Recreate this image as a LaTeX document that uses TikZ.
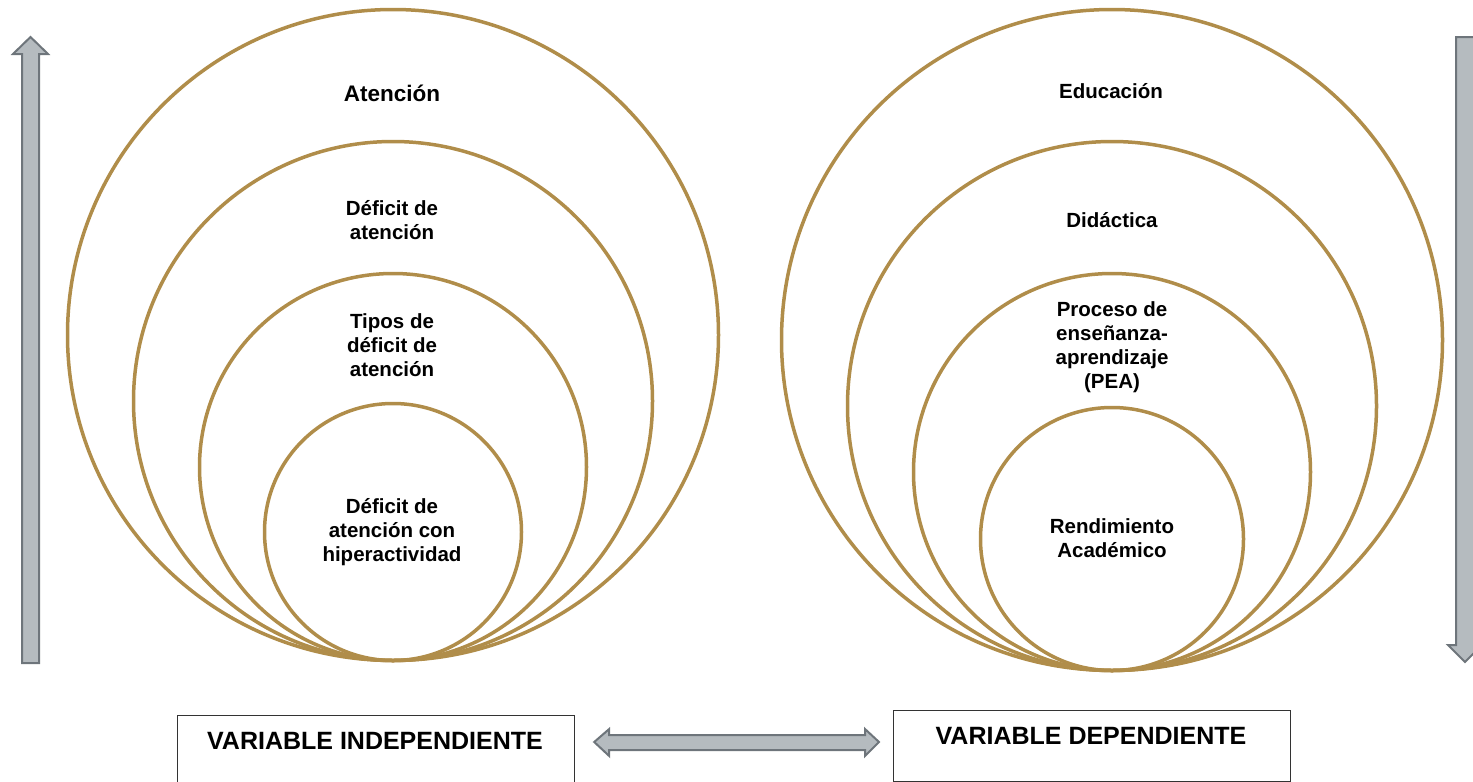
\documentclass[tikz,border=0pt]{standalone}
\usepackage{fontspec}
\setmainfont{Liberation Sans}
\usetikzlibrary{positioning,calc}
\definecolor{gold}{HTML}{B08D4A}
\definecolor{arrowfill}{HTML}{B5BBBF}
\definecolor{arrowline}{HTML}{6E757B}

\begin{document}
\begin{tikzpicture}[x=1pt, y=-1pt]
    \tikzstyle{ring}=[draw=gold, line width=3.5pt, circle, inner sep=0pt, outer sep=0pt, anchor=south]
    \tikzstyle{tag}=[font=\bfseries\fontsize{20.5}{24}\selectfont, align=center, text=black]
    \tikzstyle{blockarrow}=[fill=arrowfill, draw=arrowline, line width=2pt, line join=miter]
    \tikzstyle{varbox}=[draw=black!80, line width=1.2pt, inner sep=0pt, anchor=north west]
    \tikzstyle{vartext}=[font=\bfseries\fontsize{25}{28}\selectfont]
    \clip (0,0) rectangle (1473,782);
    % independiente
    \node[ring, minimum size=651]   (A1) at (393,660.5) {};
    \node[ring, minimum size=519]   (A2) at (A1.south)  {};
    \node[ring, minimum size=387]   (A3) at (A1.south)  {};
    \node[ring, minimum size=257]   (A4) at (A1.south)  {};
    \node[tag, font=\bfseries\fontsize{22.5}{24}\selectfont]  (tA1) at (392,93)  {Atención};
    \node[tag]  (tA2) at (392,220) {Déficit de\\atención};
    \node[tag]  (tA3) at (392,345) {Tipos de\\déficit de\\atención};
    \node[tag]  (tA4) at (392,532) {Déficit de\\atención con\\hiperactividad};
    % dependiente
    \node[ring, minimum size=661]   (B1) at (1112,670.5) {};
    \node[ring, minimum size=529]   (B2) at (B1.south)   {};
    \node[ring, minimum size=397]   (B3) at (B1.south)   {};
    \node[ring, minimum size=263]   (B4) at (B1.south)   {};
    \node[tag]  (tB1) at (1111,91)  {Educación};
    \node[tag]  (tB2) at (1112,220) {Didáctica};
    \node[tag]  (tB3) at (1112,347) {Proceso de\\enseñanza-\\aprendizaje\\(PEA)};
    \node[tag]  (tB4) at (1112,538) {Rendimiento\\Académico};
    % flechas laterales
    \draw[blockarrow] (22,663) -- (22,54) -- (13,54) -- (30.5,37) -- (48,54) -- (39,54) -- (39,663) -- cycle;
    \draw[blockarrow] (1456,37) -- (1456,645) -- (1448,645) -- (1465,662) -- (1482,645) -- (1474,645) -- (1474,37) -- cycle;
    % variables
    \node[varbox, minimum width=397, minimum height=90] (VI) at (177,715) {};
    \node[varbox, minimum width=397, minimum height=71] (VD) at (893,710) {};
    \node[vartext] (tVI) at (375,741) {VARIABLE INDEPENDIENTE};
    \node[vartext] (tVD) at (1091,736) {VARIABLE DEPENDIENTE};
    \coordinate (tipL) at ($(VI.north east)+(19,27)$);
    \coordinate (tipR) at ($(VD.north west)+(-14,32)$);
    \draw[blockarrow] (tipL) -- ++(15,-13) -- ++(0,6) -- ($(tipR)+(-14,-7)$) -- ++(0,-6)
        -- (tipR) -- ++(-14,14) -- ++(0,-6) -- ($(tipL)+(15,8)$) -- ++(0,6) -- cycle;
\end{tikzpicture}
\end{document}
